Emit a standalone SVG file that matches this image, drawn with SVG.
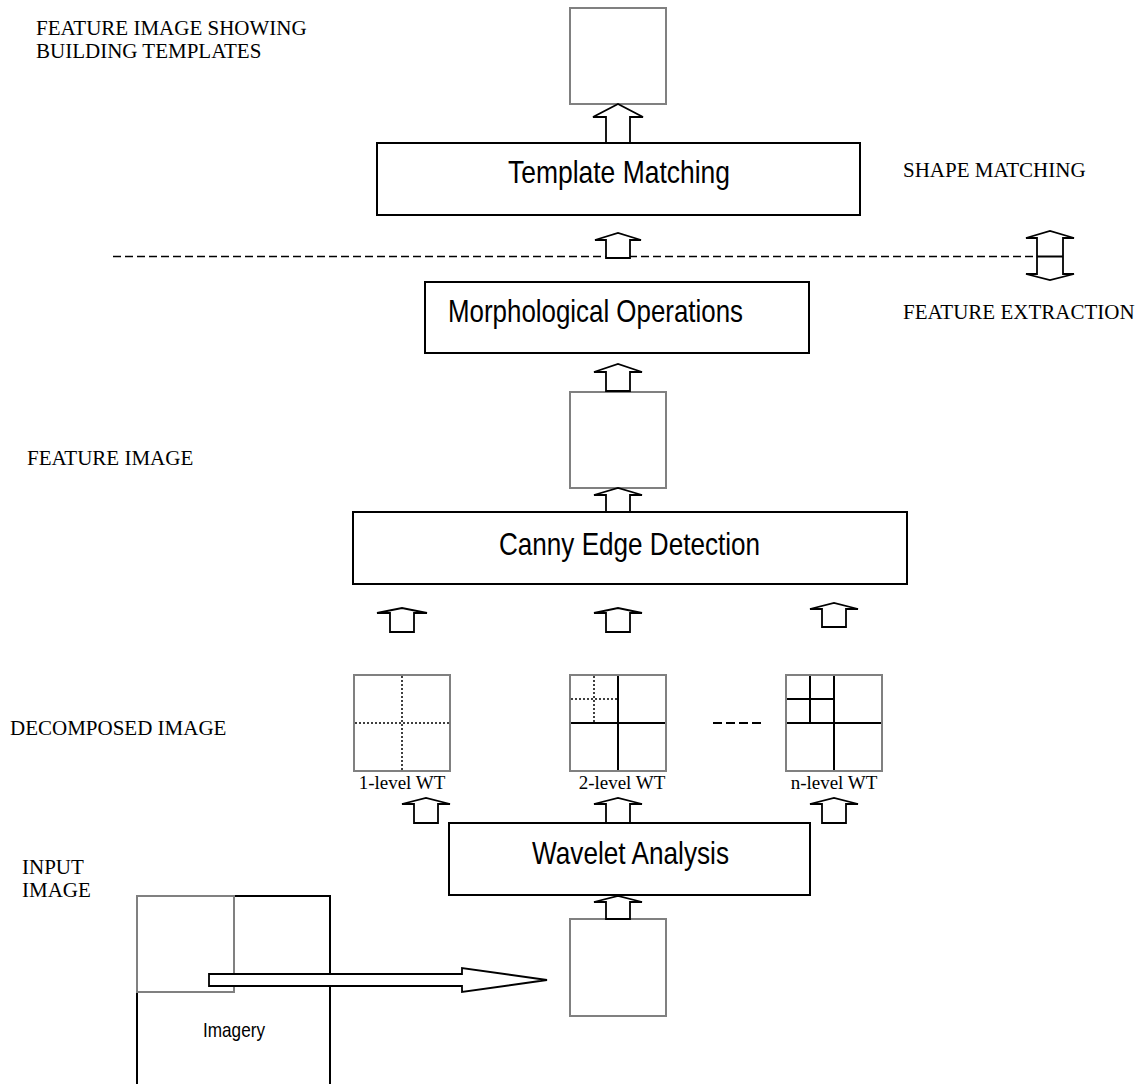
<svg xmlns="http://www.w3.org/2000/svg" width="1144" height="1084" viewBox="0 0 1144 1084">
<style>
.proc{fill:#fff;stroke:#000;stroke-width:2}
.img{fill:#fff;stroke:#808080;stroke-width:2}
.ptxt{font-family:"Liberation Sans",Arial,sans-serif;font-size:32px;fill:#000}
.lbl{font-family:"Liberation Serif","Times New Roman",serif;font-size:21px;fill:#000}
.wt{font-family:"Liberation Serif","Times New Roman",serif;font-size:19px;fill:#000;text-anchor:middle}
.blk{fill:#fff;stroke:#000;stroke-width:1.8;stroke-linejoin:miter}
.solid{stroke:#000;stroke-width:2;fill:none}
.dot{stroke:#000;stroke-width:1.5;stroke-dasharray:2,2;fill:none}
.dash{stroke:#000;stroke-width:1.6;stroke-dasharray:8,4;fill:none}
</style>

<g id="labels">
<text class="lbl" x="36" y="35">FEATURE IMAGE SHOWING</text>
<text class="lbl" x="36" y="58">BUILDING TEMPLATES</text>
<text class="lbl" x="903" y="177">SHAPE MATCHING</text>
<text class="lbl" x="903" y="319">FEATURE EXTRACTION</text>
<text class="lbl" x="27" y="465">FEATURE IMAGE</text>
<text class="lbl" x="10" y="735">DECOMPOSED IMAGE</text>
<text class="lbl" x="22" y="874">INPUT</text>
<text class="lbl" x="22" y="897">IMAGE</text>
</g>

<g id="separator">
<line class="dash" x1="113" y1="256.5" x2="1037" y2="256.5"/>
</g>

<g id="imagery">
<path class="solid" d="M137,1084 V896 H330 V1084"/>
<rect class="img" x="137" y="896" width="97" height="96" style="fill:none"/>
<text class="ptxt" x="203" y="1037" style="font-size:21px" textLength="62" lengthAdjust="spacingAndGlyphs">Imagery</text>
</g>

<g id="out-image"><rect class="img" x="570" y="8" width="96" height="96"/></g>

<g id="template-matching">
<rect class="proc" x="377" y="143" width="483" height="72"/>
<text class="ptxt" x="508" y="183" textLength="222" lengthAdjust="spacingAndGlyphs">Template Matching</text>
</g>

<g id="morphological">
<rect class="proc" x="425" y="282" width="384" height="71"/>
<text class="ptxt" x="448" y="322" textLength="295" lengthAdjust="spacingAndGlyphs">Morphological Operations</text>
</g>

<g id="feature-image"><rect class="img" x="570" y="392" width="96" height="96"/></g>

<g id="canny">
<rect class="proc" x="353" y="512" width="554" height="72"/>
<text class="ptxt" x="499" y="555" textLength="261" lengthAdjust="spacingAndGlyphs">Canny Edge Detection</text>
</g>

<g id="wt1">
<rect class="img" x="354" y="675" width="96" height="96"/>
<line class="dot" x1="402" y1="676" x2="402" y2="770"/>
<line class="dot" x1="355" y1="723" x2="449" y2="723"/>
<text class="wt" x="402" y="789">1-level WT</text>
</g>

<g id="wt2">
<rect class="img" x="570" y="675" width="96" height="96"/>
<line class="solid" x1="618" y1="676" x2="618" y2="770"/>
<line class="solid" x1="571" y1="723" x2="665" y2="723"/>
<line class="dot" x1="594" y1="676" x2="594" y2="722"/>
<line class="dot" x1="571" y1="699" x2="617" y2="699"/>
<text class="wt" x="622" y="789">2-level WT</text>
</g>

<line class="solid" x1="713" y1="723" x2="763" y2="723" stroke-dasharray="9,4"/>

<g id="wtn">
<rect class="img" x="786" y="675" width="96" height="96"/>
<line class="solid" x1="834" y1="676" x2="834" y2="770"/>
<line class="solid" x1="787" y1="723" x2="881" y2="723"/>
<line class="solid" x1="810" y1="676" x2="810" y2="722"/>
<line class="solid" x1="787" y1="699" x2="833" y2="699"/>
<text class="wt" x="834" y="789">n-level WT</text>
</g>

<g id="wavelet">
<rect class="proc" x="449" y="823" width="361" height="72"/>
<text class="ptxt" x="532" y="864" textLength="197" lengthAdjust="spacingAndGlyphs">Wavelet Analysis</text>
</g>

<g id="input-image"><rect class="img" x="570" y="919" width="96" height="97"/></g>

<g id="connectors">
<polygon class="blk" points="606,143 606,117 593,117 618,104 643,117 630,117 630,143"/>
<polygon class="blk" points="606,258 606,240 595,240 618,233 641,240 630,240 630,258"/>
<polygon class="blk" points="606,391 606,372 594,372 618,364 642,372 630,372 630,391"/>
<polygon class="blk" points="606,512 606,495 594,495 618,488 642,495 630,495 630,512"/>
<polygon class="blk" points="390,632 390,613 377,613 402,608 427,613 414,613 414,632"/>
<polygon class="blk" points="606,632 606,613 594,613 618,608 642,613 630,613 630,632"/>
<polygon class="blk" points="822,627 822,609 810,609 834,603 858,609 846,609 846,627"/>
<polygon class="blk" points="414,823 414,804 402,804 426,798 450,804 438,804 438,823"/>
<polygon class="blk" points="606,823 606,804 594,804 618,798 642,804 630,804 630,823"/>
<polygon class="blk" points="822,823 822,804 810,804 834,798 858,804 846,804 846,823"/>
<polygon class="blk" points="606,919 606,902 594,902 618,896 642,902 630,902 630,919"/>
<polygon class="blk" points="1037,238 1026,238 1050,231 1074,238 1063,238 1063,274 1074,274 1050,280 1026,274 1037,274"/>
<line class="solid" x1="1037" y1="256.5" x2="1063" y2="256.5"/>
<polygon class="blk" points="209,974 462,974 462,968 547,980 462,992 462,986 209,986"/>
</g>
</svg>
